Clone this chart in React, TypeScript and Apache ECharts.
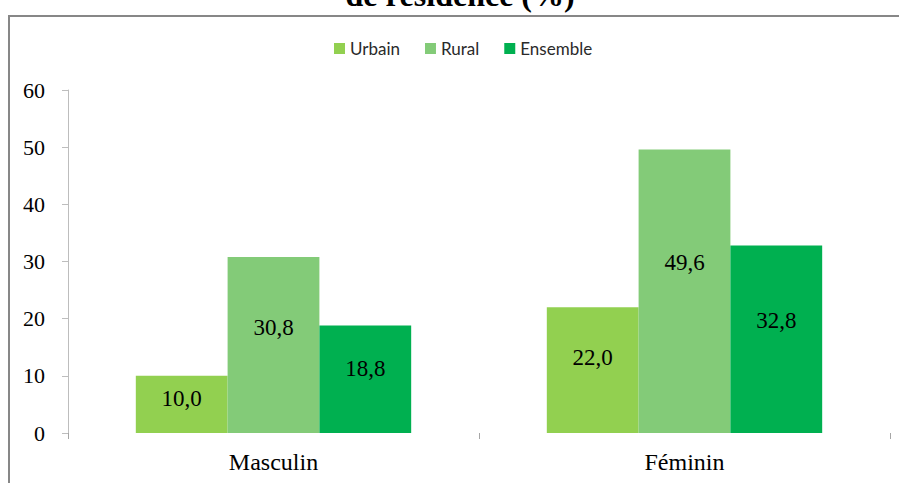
import React, { useEffect, useRef } from "react";
import * as echarts from "echarts";

const categories = ["Masculin", "Féminin"];
const seriesNames = ["Urbain", "Rural", "Ensemble"];
const urbain = [10.0, 22.0];
const rural = [30.8, 49.6];
const ensemble = [18.8, 32.8];
const yTicks = { min: 0, max: 60, interval: 10 };
const titleText = "de résidence (%)";

const colors = ["#92D050", "#83CB78", "#00B050"];
const serif = "'Liberation Serif', 'Times New Roman', serif";

export default function App() {
  const ref = useRef<HTMLDivElement>(null);
  useEffect(() => {
    if (!ref.current) return;
    const chart = echarts.init(ref.current, null, { renderer: "svg" });
    const values = [urbain, rural, ensemble];
    chart.setOption({
      animation: false,
      backgroundColor: "#ffffff",
      color: colors,
      graphic: [
        {
          type: "rect",
          shape: { x: 893, y: 18, width: 10, height: 470 },
          style: { fill: "#ffffff" },
          silent: true,
          z: -1,
        },
        {
          type: "polyline",
          shape: { points: [[9, 483], [9, 16], [899, 16]] },
          style: { fill: "none", stroke: "#878787", lineWidth: 2 },
          silent: true,
        },
        {
          type: "text",
          x: 460,
          y: -5,
          style: {
            text: titleText,
            font: `bold 32px ${serif}`,
            fill: "#000",
            textAlign: "center",
            textVerticalAlign: "middle",
          },
        },
      ],
      legend: {
        data: seriesNames,
        left: 329,
        top: 35,
        itemWidth: 11,
        itemHeight: 11,
        itemGap: 25,
        icon: "rect",
        textStyle: { fontFamily: "Lato, 'Noto Sans', sans-serif", fontSize: 17, color: "#2a2a2a" },
      },
      grid: { left: 68, right: 9, top: 90, bottom: 50, containLabel: false },
      xAxis: {
        type: "category",
        data: categories,
        axisLine: { show: false },
        axisTick: { show: true, length: 6, lineStyle: { color: "#a6a6a6" } },
        axisLabel: { fontFamily: serif, fontSize: 24, color: "#000", margin: 17 },
      },
      yAxis: {
        type: "value",
        min: yTicks.min,
        max: yTicks.max,
        interval: yTicks.interval,
        axisLine: { show: true, lineStyle: { color: "#bdbdbd" } },
        axisTick: { show: true, length: 6, lineStyle: { color: "#bdbdbd" } },
        splitLine: { show: false },
        axisLabel: { fontFamily: serif, fontSize: 22, color: "#000", margin: 23 },
      },
      series: seriesNames.map((name, i) => ({
        name,
        type: "bar",
        data: values[i],
        barGap: "0%",
        barCategoryGap: "33%",
        label: {
          show: true,
          position: ["50%", "40%"],
          align: "center",
          verticalAlign: "middle",
          fontFamily: serif,
          fontSize: 23,
          color: "#000",
          formatter: (p: any) => Number(p.value).toFixed(1).replace(".", ","),
        },
      })),
    });
    return () => chart.dispose();
  }, []);
  return (
    <div
      ref={ref}
      style={{ position: "fixed", left: 0, top: 0, width: 899, height: 483 }}
    />
  );
}
